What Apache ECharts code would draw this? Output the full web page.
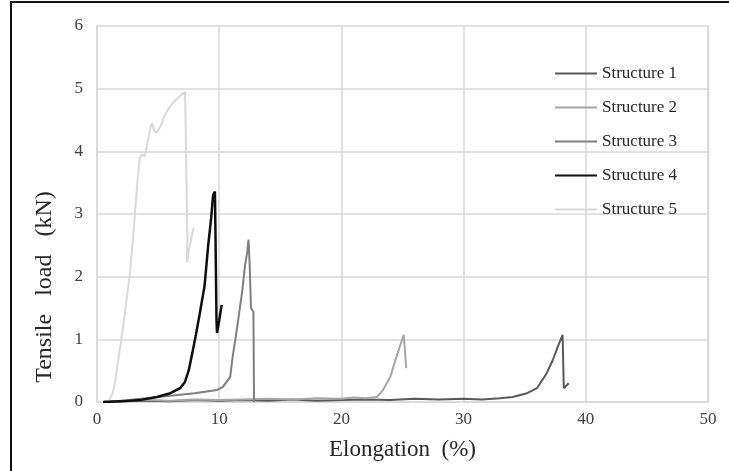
<!DOCTYPE html>
<html>
<head>
<meta charset="utf-8">
<script src="https://cdn.jsdelivr.net/npm/echarts@6/dist/echarts.min.js"></script>
<style>
html,body{margin:0;padding:0;background:#fff;}
#chart{width:729px;height:471px;}
</style>
</head>
<body>
<div id="chart"></div>
<script>
// Data: [elongation %, tensile load kN]
const seriesNames = ['Structure 1', 'Structure 2', 'Structure 3', 'Structure 4', 'Structure 5'];
const xTicks = [0, 10, 20, 30, 40, 50];
const yTicks = [0, 1, 2, 3, 4, 5, 6];

const structure1 = [[0.5,0],[2,0.01],[4,0.02],[6,0.01],[8,0.03],[10,0.02],[12,0.03],[14,0.02],[16,0.04],[18,0.02],[20,0.03],[22,0.04],[24,0.03],[26,0.05],[28,0.04],[30,0.05],[31.5,0.04],[33,0.06],[34,0.08],[35.2,0.14],[36.0,0.22],[36.8,0.46],[37.3,0.67],[37.7,0.88],[38.1,1.07],[38.2,0.22],[38.6,0.3]];
const structure2 = [[0.5,0],[2,0.02],[4,0.03],[6,0.02],[8,0.04],[10,0.03],[12,0.04],[14,0.05],[16,0.04],[18,0.06],[20,0.05],[21,0.07],[22,0.06],[22.9,0.08],[23.4,0.19],[24.0,0.4],[24.5,0.72],[24.96,0.99],[25.1,1.07],[25.2,0.83],[25.3,0.54]];
const structure3 = [[0.5,0],[2,0.02],[4,0.06],[6,0.1],[8,0.14],[9.8,0.19],[10.3,0.24],[10.9,0.4],[11.1,0.72],[11.4,1.1],[11.9,1.79],[12.1,2.16],[12.3,2.4],[12.4,2.59],[12.5,2.16],[12.6,1.5],[12.7,1.47],[12.8,1.44],[12.85,0]];
const structure4 = [[0.5,0],[2,0.01],[3.5,0.03],[4.9,0.08],[6.0,0.14],[6.8,0.22],[7.2,0.32],[7.5,0.5],[7.8,0.78],[8.1,1.08],[8.4,1.4],[8.8,1.85],[9.1,2.5],[9.35,2.95],[9.5,3.3],[9.65,3.36],[9.7,2.6],[9.78,1.3],[9.82,1.1],[10.0,1.3],[10.2,1.55]];
const structure5 = [[0.8,0],[1.0,0.03],[1.3,0.15],[1.5,0.35],[1.8,0.75],[2.1,1.15],[2.4,1.6],[2.7,2.06],[2.9,2.5],[3.1,3.0],[3.3,3.5],[3.5,3.9],[3.7,3.95],[3.9,3.92],[4.1,4.1],[4.4,4.4],[4.5,4.45],[4.7,4.32],[4.9,4.3],[5.2,4.4],[5.6,4.6],[6.1,4.75],[6.6,4.85],[7.2,4.95],[7.25,4.5],[7.3,3.8],[7.4,2.6],[7.35,2.22],[7.6,2.5],[7.9,2.78]];

const allData = [structure1, structure2, structure3, structure4, structure5];
const colors = ['#595959', '#a6a6a6', '#7f7f7f', '#0d0d0d', '#d9d9d9'];
const widths = [2, 2, 2, 2.5, 2];

const serif = '"Liberation Serif", "DejaVu Serif", serif';
const chart = echarts.init(document.getElementById('chart'));
chart.setOption({
  animation: false,
  backgroundColor: '#fff',
  grid: { left: 97, top: 26, right: 21, bottom: 69, containLabel: false },
  legend: {
    orient: 'vertical',
    left: 550,
    top: 60,
    itemWidth: 42,
    itemHeight: 14,
    itemGap: 17,
    textStyle: { fontFamily: serif, fontSize: 17, color: '#262626', lineHeight: 17 },
    data: seriesNames.map((n, i) => ({ name: n, icon: 'path://M0,6 L40,6 L40,8 L0,8 Z', itemStyle: { color: colors[i] } }))
  },
  xAxis: {
    type: 'value', min: xTicks[0], max: xTicks[xTicks.length - 1], interval: 10,
    name: 'Elongation  (%)', nameLocation: 'middle', nameGap: 36,
    nameTextStyle: { fontFamily: serif, fontSize: 23, color: '#262626' },
    axisLine: { show: true, lineStyle: { color: '#d9d9d9', width: 1.5 } },
    axisTick: { show: false },
    axisLabel: { fontFamily: serif, fontSize: 17, color: '#404040', margin: 9 },
    splitLine: { show: true, lineStyle: { color: '#d9d9d9', width: 1.5 } }
  },
  yAxis: {
    type: 'value', min: yTicks[0], max: yTicks[yTicks.length - 1], interval: 1,
    axisLine: { show: true, lineStyle: { color: '#d9d9d9', width: 1.5 } },
    axisTick: { show: false },
    axisLabel: { fontFamily: serif, fontSize: 17, color: '#404040', margin: 14 },
    splitLine: { show: true, lineStyle: { color: '#d9d9d9', width: 1.5 } }
  },
  graphic: [
    { type: 'rect', shape: { x: 11, y: 2, width: 900, height: 800 }, style: { fill: 'none', stroke: '#111', lineWidth: 2 }, silent: true },
    { type: 'rect', shape: { x: 708, y: 26, width: 0.5, height: 376 }, style: { fill: 'none', stroke: '#d9d9d9', lineWidth: 1.5 }, silent: true },
    { type: 'text', x: 45, y: 287, rotation: Math.PI / 2,
      style: { text: 'Tensile   load   (kN)', font: '24px ' + serif, fill: '#262626', textAlign: 'center', textVerticalAlign: 'middle' } }
  ],
  series: seriesNames.map((n, i) => ({
    name: n, type: 'line', data: allData[i], symbol: 'none', showSymbol: false,
    lineStyle: { color: colors[i], width: widths[i] }, itemStyle: { color: colors[i] },
    z: i === 3 ? 5 : 3
  }))
});
</script>
</body>
</html>
